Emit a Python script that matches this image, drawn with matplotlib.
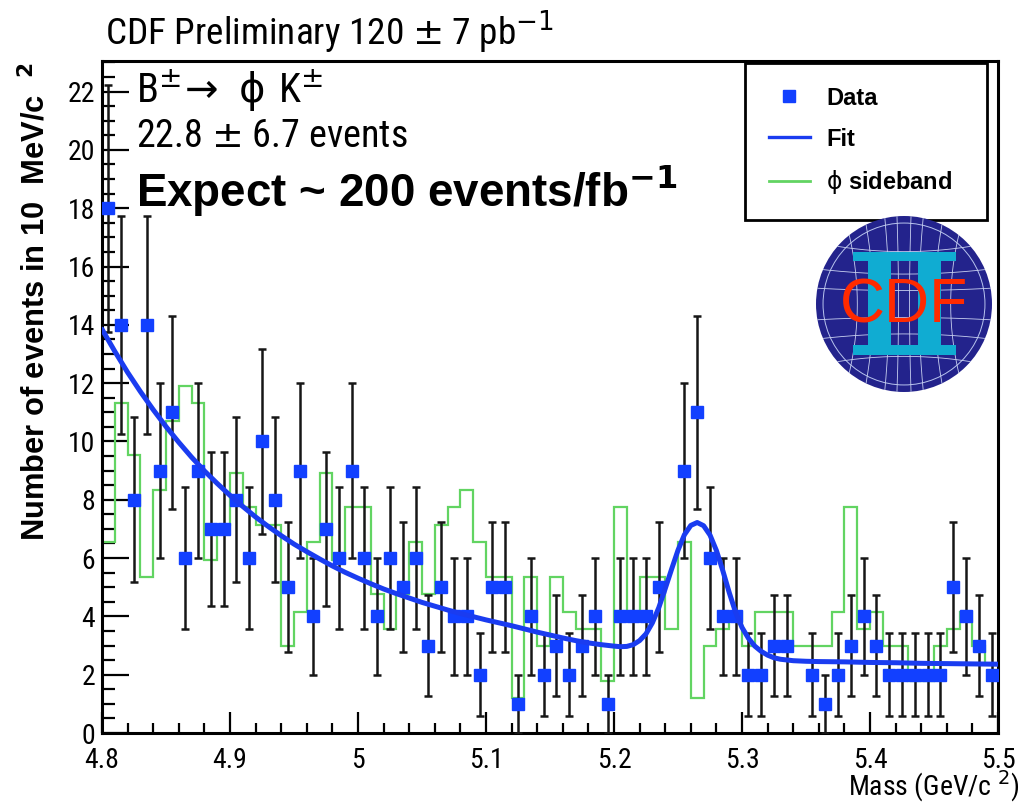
import numpy as np
import matplotlib
matplotlib.use("Agg")
import matplotlib.pyplot as plt
from matplotlib import font_manager as fm
from matplotlib.lines import Line2D
from matplotlib.patches import Circle, Rectangle
from matplotlib.ticker import MultipleLocator, FuncFormatter

# ---------------------------------------------------------------- data
# 70 bins of 10 MeV/c^2 between 4.8 and 5.5 GeV/c^2
mass_min = 4.8
mass_max = 5.5
n_bins = 70

data_counts = [18, 14, 8, 14, 9, 11, 6, 9, 7, 7,
               8, 6, 10, 8, 5, 9, 4, 7, 6, 9,
               6, 4, 6, 5, 6, 3, 5, 4, 4, 2,
               5, 5, 1, 4, 2, 3, 2, 3, 4, 1,
               4, 4, 4, 5, 0, 9, 11, 6, 4, 4,
               2, 2, 3, 3, 0, 2, 1, 2, 3, 4,
               3, 2, 2, 2, 2, 2, 5, 4, 3, 2]

# phi-sideband events, normalised to the signal window
sideband_counts = [11, 19, 16, 9, 14, 18, 20, 19, 10, 12,
                   15, 13, 12, 12, 5, 7, 11, 15, 10, 13,
                   13, 8, 6, 8, 11, 8, 12, 13, 14, 11,
                   9, 9, 2, 9, 5, 9, 7, 6, 6, 3,
                   13, 7, 9, 9, 6, 11, 2, 5, 6, 7,
                   5, 7, 7, 7, 5, 5, 5, 7, 13, 6,
                   7, 5, 5, 3, 3, 5, 6, 7, 5, 4]
sideband_norm = 0.595

# fitted curve (background + B peak)
fit_mass = [4.80, 4.81, 4.82, 4.83, 4.84, 4.85, 4.86, 4.87, 4.88, 4.89,
            4.90, 4.91, 4.92, 4.93, 4.94, 4.95, 4.96, 4.97, 4.98, 4.99,
            5.00, 5.01, 5.02, 5.03, 5.04, 5.05, 5.06, 5.07, 5.08, 5.09,
            5.10, 5.11, 5.12, 5.13, 5.14, 5.15, 5.16, 5.17, 5.18, 5.19,
            5.20, 5.205, 5.21, 5.215, 5.22, 5.225, 5.23, 5.235, 5.24, 5.245,
            5.25, 5.255, 5.26, 5.265, 5.27, 5.275, 5.28, 5.285, 5.29, 5.295,
            5.30, 5.305, 5.31, 5.315, 5.32, 5.325, 5.33, 5.34, 5.35, 5.36,
            5.38, 5.40, 5.42, 5.44, 5.46, 5.48, 5.50]
fit_value = [13.85, 13.09, 12.37, 11.71, 11.09, 10.51, 9.97, 9.46, 8.99, 8.56,
             8.15, 7.77, 7.41, 7.08, 6.77, 6.48, 6.22, 5.97, 5.73, 5.51,
             5.31, 5.12, 4.94, 4.78, 4.63, 4.48, 4.35, 4.22, 4.10, 3.99,
             3.88, 3.78, 3.68, 3.57, 3.46, 3.36, 3.26, 3.17, 3.09, 3.03,
             2.98, 2.96, 2.97, 3.03, 3.17, 3.40, 3.78, 4.30, 4.95, 5.62,
             6.27, 6.80, 7.12, 7.22, 7.11, 6.79, 6.26, 5.57, 4.82, 4.14,
             3.62, 3.25, 2.98, 2.80, 2.67, 2.58, 2.53, 2.48, 2.46, 2.45,
             2.44, 2.42, 2.41, 2.39, 2.38, 2.37, 2.36]

y_max = 23.05

title_text = r"CDF Preliminary 120 $\pm$ 7 pb$^{-1}$"
decay_text = r"B$^{\pm}\!\rightarrow\ \mathrm{\phi}\ $K$^{\pm}$"
yield_text = r"22.8 $\pm$ 6.7 events"
expect_text = r"Expect ~ 200 events/fb$^{\mathbf{-1}}$"
ylabel_text = r"Number of events in 10  MeV/c  $^{\mathbf{2}}$"
xlabel_text = r"Mass (GeV/c $^{2}$)"
legend_labels = ["Data", "Fit", r"$\mathrm{\phi}$ sideband"]

# ---------------------------------------------------------------- style
DATA_BLUE = "#1240ff"
FIT_BLUE = "#1a3cf0"
SIDE_GREEN = "#62d462"
LOGO_NAVY = "#23238c"
LOGO_CYAN = "#10acd2"
LOGO_RED = "#ff2a00"

entries = fm.fontManager.ttflist
names = {f.name for f in entries}
CONDENSED = ("condensed", "semi-condensed", "extra-condensed")


def condensed_of(family):
    found = [f.stretch for f in entries
             if f.name == family and str(f.stretch) in CONDENSED]
    for s in CONDENSED:
        if s in found:
            return s
    return None


if "Liberation Sans Narrow" in names:
    narrow_family, narrow_stretch = "Liberation Sans Narrow", "normal"
elif "Roboto Condensed" in names:
    narrow_family, narrow_stretch = "Roboto Condensed", "normal"
elif condensed_of("Noto Sans"):
    narrow_family, narrow_stretch = "Noto Sans", condensed_of("Noto Sans")
elif "Open Sans Condensed" in names:
    narrow_family, narrow_stretch = "Open Sans Condensed", "normal"
elif condensed_of("DejaVu Sans"):
    narrow_family, narrow_stretch = "DejaVu Sans", condensed_of("DejaVu Sans")
else:
    narrow_family, narrow_stretch = "Liberation Sans", "normal"

plt.rcParams["font.family"] = [narrow_family, "DejaVu Sans"]
plt.rcParams["font.stretch"] = narrow_stretch
plt.rcParams["mathtext.fontset"] = "dejavusans"
HELV = ["Liberation Sans", "DejaVu Sans"]

W, H = 1028, 806
fig = plt.figure(figsize=(W / 100, H / 100), dpi=100)


def fx(p):
    return p / W


def fy(p):
    return 1 - p / H


ax = fig.add_axes([fx(102), fy(733), (998 - 102) / W, (733 - 61) / H])

edges = np.linspace(mass_min, mass_max, n_bins + 1)
centers = 0.5 * (edges[:-1] + edges[1:])
counts = np.asarray(data_counts, dtype=float)
side = np.asarray(sideband_counts, dtype=float) * sideband_norm

ax.stairs(side, edges, baseline=None, color=SIDE_GREEN, lw=1.6, zorder=2)

filled = counts > 0
ax.errorbar(centers[filled], counts[filled], yerr=np.sqrt(counts[filled]),
            fmt="none", ecolor="#161616", elinewidth=1.8, capsize=3.0,
            capthick=1.8, zorder=3)
ax.plot(centers[filled], counts[filled], "s", color=DATA_BLUE, ms=9.2,
        mec=DATA_BLUE, zorder=4)
ax.plot(fit_mass, fit_value, color=FIT_BLUE, lw=3.6,
        solid_capstyle="round", solid_joinstyle="round", zorder=5)

ax.set_xlim(mass_min, mass_max)
ax.set_ylim(0, y_max)
ax.xaxis.set_major_locator(MultipleLocator(0.1))
ax.xaxis.set_minor_locator(MultipleLocator(0.02))
ax.yaxis.set_major_locator(MultipleLocator(2))
ax.yaxis.set_minor_locator(MultipleLocator(0.5))
ax.xaxis.set_major_formatter(
    FuncFormatter(lambda v, p: f"{v:.1f}".rstrip("0").rstrip(".")))
ax.yaxis.set_major_formatter(FuncFormatter(lambda v, p: f"{v:.0f}"))

ax.tick_params(which="both", direction="in", top=False, right=False,
               colors="black", width=1.6)
ax.tick_params(axis="y", which="major", length=19.5, pad=5, labelsize=20)
ax.tick_params(axis="y", which="minor", length=9.5)
ax.tick_params(axis="x", which="major", length=15, pad=10, labelsize=20)
ax.tick_params(axis="x", which="minor", length=7.5)
for sp in ax.spines.values():
    sp.set_linewidth(2.2)

# legend box anchored to its pixel frame (745..987 x 63..213)
handles = [Line2D([], [], ls="none", marker="s", ms=8.5, color=DATA_BLUE),
           Line2D([], [], color=FIT_BLUE, lw=2.4),
           Line2D([], [], color=SIDE_GREEN, lw=2.0)]
leg = ax.legend(handles, legend_labels, loc="upper left",
                bbox_to_anchor=(fx(745), fy(213), (987 - 745) / W, (213 - 63) / H),
                bbox_transform=fig.transFigure, mode="expand", borderaxespad=0,
                fancybox=False, framealpha=1, edgecolor="black",
                borderpad=1.0, labelspacing=0.76, handlelength=1.75,
                handletextpad=0.7,
                prop={"family": HELV, "weight": "bold", "size": 17})
leg.get_frame().set_linewidth(2.0)
leg.set_zorder(10)

# texts
t_title = fig.text(fx(105), fy(45), title_text, ha="left", va="baseline",
                   fontsize=24)
t_decay = fig.text(fx(136), fy(103), decay_text, ha="left", va="baseline",
                   fontsize=23)
t_yield = fig.text(fx(136), fy(147), yield_text, ha="left", va="baseline",
                   fontsize=23)
t_expect = fig.text(fx(136), fy(207), expect_text, ha="left", va="baseline",
                    fontsize=33, weight="bold", family=HELV, stretch="normal")
t_ylab = fig.text(fx(36), fy(62), ylabel_text, rotation=90, ha="center",
                  va="top", fontsize=22, weight="bold", family=HELV,
                  stretch="normal")
t_xlab = fig.text(fx(1020), fy(796), xlabel_text, ha="right", va="baseline",
                  fontsize=20)

# size each label so that it spans its pixel extent
renderer = fig.canvas.get_renderer()
for txt, span, vertical in [(t_title, 450, False), (t_yield, 273, False),
                            (t_expect, 542, False), (t_ylab, 478, True)]:
    bb = txt.get_window_extent(renderer)
    cur = bb.height if vertical else bb.width
    txt.set_fontsize(txt.get_fontsize() * span / cur)
t_decay.set_fontsize(t_yield.get_fontsize() * 1.05)

# CDF II logo
lax = fig.add_axes([fx(816), fy(392), 176 / W, 176 / H])
lax.set_xlim(-1, 1)
lax.set_ylim(-1, 1)
lax.axis("off")
disc = Circle((0, 0), 1.0, fc=LOGO_NAVY, ec="none", zorder=1)
lax.add_patch(disc)
lax.add_patch(Circle((0, 0), 0.92, fill=False, ec="#b8c4ee", lw=0.7, zorder=2))
t = np.linspace(-1, 1, 200)
for a in (0.08, 0.22, 0.45, 0.68):
    for s in (-1, 1):
        ln, = lax.plot(s * a * (0.78 + 0.22 * t ** 2), t, color="#c8d0f0",
                       lw=0.6, zorder=2)
        ln.set_clip_path(disc)
for b in (0.18, 0.4, 0.7):
    for s in (-1, 1):
        ln, = lax.plot(t, s * b * (0.85 + 0.15 * t ** 2), color="#c8d0f0",
                       lw=0.6, zorder=2)
        ln.set_clip_path(disc)
for (x0, y0, w, h) in [(-0.58, 0.49, 1.17, 0.10), (-0.58, -0.58, 1.17, 0.11),
                       (-0.41, -0.5, 0.26, 1.0), (0.16, -0.5, 0.26, 1.0)]:
    lax.add_patch(Rectangle((x0, y0), w, h, fc=LOGO_CYAN, ec="none", zorder=3))
lax.text(0.0, -0.02, "CDF", color=LOGO_RED, fontsize=45, family=HELV,
         stretch="normal", ha="center", va="center", zorder=4)

fig.savefig("out.png", dpi=100)
